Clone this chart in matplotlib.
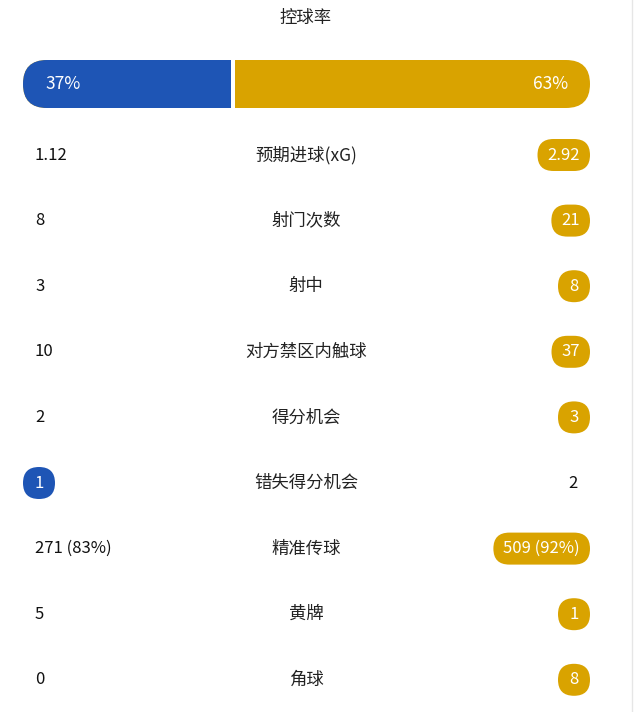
import matplotlib
matplotlib.use("Agg")
import matplotlib.pyplot as plt
from matplotlib.patches import FancyBboxPatch, Rectangle

plt.rcParams['font.family'] = ['Noto Sans CJK SC', 'DejaVu Sans']

title = "控球率"
possession = [37, 63]
labels = ["预期进球(xG)", "射门次数", "射中", "对方禁区内触球", "得分机会",
          "错失得分机会", "精准传球", "黄牌", "角球"]
left_vals = ["1.12", "8", "3", "10", "2", "1", "271 (83%)", "5", "0"]
right_vals = ["2.92", "21", "8", "37", "3", "2", "509 (92%)", "1", "8"]
winner = ["R", "R", "R", "R", "R", "L", "R", "R", "R"]

BLUE = "#1e55b5"
GOLD = "#d9a300"

fig = plt.figure(figsize=(6.4, 7.12), dpi=100)
ax = fig.add_axes([0, 0, 1, 1])
ax.set_xlim(0, 640)
ax.set_ylim(712, 0)
ax.axis('off')

ax.axvline(632, color="#e6e6e6", lw=1)

ax.text(306, 18, title, ha='center', va='center', fontsize=12.5, color="#222222")

# possession bar
x0, x1, yb, h = 23, 590, 60, 48
split = x0 + (x1 - x0) * possession[0] / sum(possession)
ax.add_patch(FancyBboxPatch((x0, yb), x1 - x0, h, boxstyle="round,pad=0,rounding_size=24",
                            fc=GOLD, ec='none'))
ax.add_patch(FancyBboxPatch((x0, yb), split - x0, h, boxstyle="round,pad=0,rounding_size=24",
                            fc=BLUE, ec='none'))
ax.add_patch(Rectangle((split - 30, yb), 30, h, fc=BLUE, ec='none'))
ax.add_patch(Rectangle((split - 2, yb), 4, h, fc='white', ec='none'))
ax.text(45, yb + h / 2, f"{possession[0]}%", ha='left', va='center', fontsize=12.5,
        color='white', fontweight='medium')
ax.text(568, yb + h / 2, f"{possession[1]}%", ha='right', va='center', fontsize=12.5,
        color='white', fontweight='medium')

fig.canvas.draw()
renderer = fig.canvas.get_renderer()

ys = [155 + i * 65.6 for i in range(len(labels))]
ph = 32
for y, lab, lv, rv, w in zip(ys, labels, left_vals, right_vals, winner):
    ax.text(306, y, lab, ha='center', va='center', fontsize=12.5, color="#222222")
    # left
    if w == "L":
        t = ax.text(0, 0, lv, fontsize=12, fontweight='medium')
        bb = t.get_window_extent(renderer); t.remove()
        pw = max(bb.width + 20, ph)
        ax.add_patch(FancyBboxPatch((23, y - ph / 2), pw, ph,
                     boxstyle=f"round,pad=0,rounding_size={ph/2}", fc=BLUE, ec='none'))
        ax.text(23 + pw / 2, y, lv, ha='center', va='center', fontsize=12,
                color='white', fontweight='medium')
    else:
        ax.text(35, y, lv, ha='left', va='center', fontsize=12, color="#111111",
                fontweight='medium')
    # right
    if w == "R":
        t = ax.text(0, 0, rv, fontsize=12, fontweight='medium')
        bb = t.get_window_extent(renderer); t.remove()
        pw = max(bb.width + 20, ph)
        ax.add_patch(FancyBboxPatch((590 - pw, y - ph / 2), pw, ph,
                     boxstyle=f"round,pad=0,rounding_size={ph/2}", fc=GOLD, ec='none'))
        ax.text(590 - pw / 2, y, rv, ha='center', va='center', fontsize=12,
                color='white', fontweight='medium')
    else:
        ax.text(578, y, rv, ha='right', va='center', fontsize=12, color="#111111",
                fontweight='medium')

fig.savefig("out.png", dpi=100)
